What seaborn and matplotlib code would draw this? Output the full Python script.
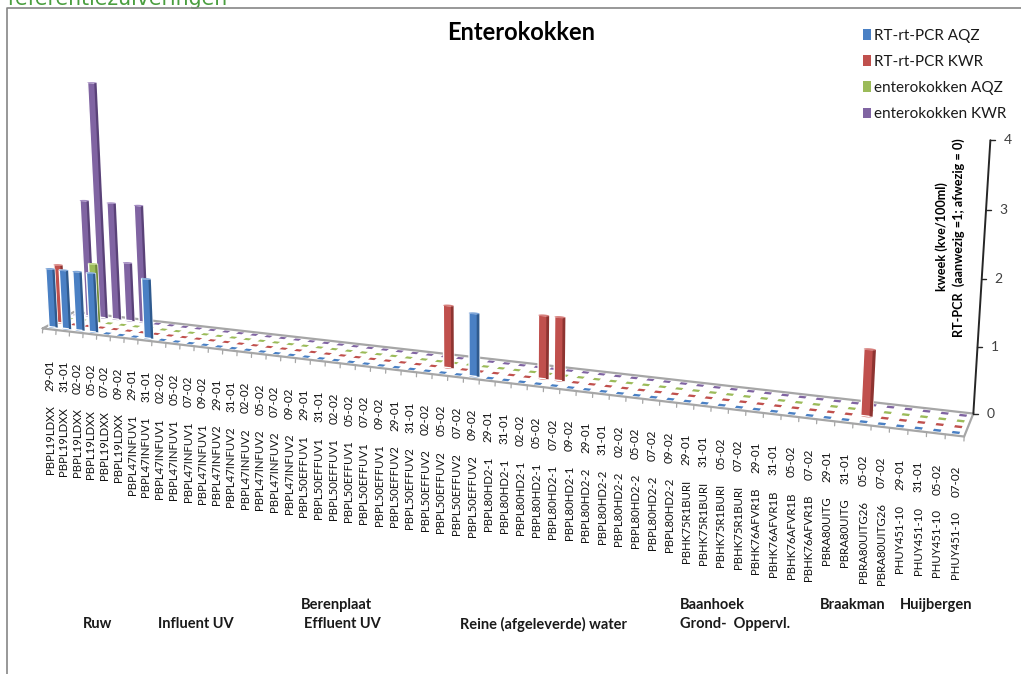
import numpy as np
import pandas as pd
import seaborn as sns
import matplotlib
matplotlib.use("Agg")
import matplotlib.pyplot as plt
from matplotlib.patches import Polygon, Rectangle
from matplotlib.transforms import Transform

samples = (["PBPL19LDXX"] * 6 + ["PBPL47INFUV1"] * 6 + ["PBPL47INFUV2"] * 6 +
           ["PBPL50EFFUV1"] * 6 + ["PBPL50EFFUV2"] * 6 + ["PBPL80HD2-1"] * 6 +
           ["PBPL80HD2-2"] * 6 + ["PBHK75R1BURI"] * 4 + ["PBHK76AFVR1B"] * 4 +
           ["PBRA80UITG"] * 2 + ["PBRA80UITG26"] * 2 + ["PHUY451-10"] * 4)
full_dates = ["29-01", "31-01", "02-02", "05-02", "07-02", "09-02"]
short_dates = ["29-01", "31-01", "05-02", "07-02"]
dates = full_dates * 7 + short_dates * 2 + ["29-01", "31-01", "05-02", "07-02"] + short_dates

series_names = ["RT-rt-PCR AQZ", "RT-rt-PCR KWR", "enterokokken AQZ", "enterokokken KWR"]
series_colors = ["#4A80C4", "#C0504D", "#9BBB59", "#8064A2"]
dark_colors = ["#2F5A8E", "#8E3431", "#6F8A38", "#5A4278"]
light_colors = ["#7FA6D8", "#D67F7C", "#B9D27F", "#A48CC2"]

n_cat = len(samples)
rt_aqz = np.zeros(n_cat)
rt_kwr = np.zeros(n_cat)
ent_aqz = np.zeros(n_cat)
ent_kwr = np.zeros(n_cat)
rt_aqz[[0, 1, 2, 3, 7, 29]] = 1
rt_kwr[[0, 27, 33, 34, 52]] = 1
ent_aqz[[2]] = 1
ent_kwr[[1, 2, 3, 4, 5]] = [2, 4, 2, 1, 2]
series_values = [rt_aqz, rt_kwr, ent_aqz, ent_kwr]
row_depths = [0.125, 0.375, 0.625, 0.875]

group_labels = [("Berenplaat", 336, 605), ("Ruw", 98, 624), ("Influent UV", 196, 624),
                ("Effluent UV", 342, 624), ("Reine (afgeleverde) water", 543, 624),
                ("Baanhoek", 712, 605), ("Grond-  Oppervl.", 735, 624),
                ("Braakman", 853, 605), ("Huijbergen", 936, 605)]

W, H = 1021, 674

# Camera matrix for the oblique view, solved from where the chart box lands on the canvas.
world_pts = np.array([[0, 0, 0], [58, 0, 0], [58, 1, 0], [0, 1, 0], [58, 1, 4],
                      [2.5, .875, 4], [2.5, .875, 0], [52.5, .375, 1], [52.5, .375, 0],
                      [29.5, .125, 1], [29.5, .125, 0], [0.5, .125, 1], [0.5, .125, 0],
                      [8, 0, 0], [57, 0, 0]], float)
canvas_pts = np.array([[43, 328], [963, 438], [973, 413], [72, 312.5], [990, 140],
                       [92, 83], [106, 318], [872, 348], [867, 415],
                       [474, 313], [474, 377], [50, 270], [53, 327],
                       [152, 339], [945, 436]], float)


def solve_camera(world, canvas):
    w = world / np.array([58.0, 1.0, 4.0])
    c = canvas / 1000.0
    rows = []
    for (X, Y, Z), (u, v) in zip(w, c):
        rows.append([X, Y, Z, 1, 0, 0, 0, 0, -u * X, -u * Y, -u * Z, -u])
        rows.append([0, 0, 0, 0, X, Y, Z, 1, -v * X, -v * Y, -v * Z, -v])
    return np.linalg.svd(np.array(rows))[2][-1].reshape(3, 4)


CAMERA = solve_camera(world_pts, canvas_pts)


def project(cat, depth, value):
    cat, depth, value = np.broadcast_arrays(np.asarray(cat, float), np.asarray(depth, float),
                                            np.asarray(value, float))
    pts = np.stack([cat / 58.0, depth, value / 4.0, np.ones_like(cat)], axis=-1)
    h = pts @ CAMERA.T
    return 1000.0 * h[..., :2] / h[..., 2:3]


class RowPlane(Transform):
    """Maps (category, value) in one series row of the chart box onto the canvas."""
    input_dims = 2
    output_dims = 2

    def __init__(self, row_depth):
        super().__init__()
        self.row_depth = row_depth

    def transform_non_affine(self, values):
        values = np.asarray(values, float)
        return project(values[:, 0] + 0.5, self.row_depth, values[:, 1])


sns.set_theme(style="white", rc={"axes.grid": False})
plt.rcParams["font.family"] = ["Lato", "DejaVu Sans"]

fig = plt.figure(figsize=(W / 100, H / 100), dpi=100, facecolor="white")
ax = fig.add_axes([0, 0, 1, 1])

long_table = pd.DataFrame({
    "position": np.tile(np.arange(n_cat), 4),
    "value": np.concatenate(series_values),
    "series": np.repeat(series_names, n_cat),
})
BAR_W = 0.66
sns.barplot(data=long_table, x="position", y="value", hue="series", hue_order=series_names,
            palette=sns.color_palette(series_colors), native_scale=True, dodge=False,
            width=BAR_W, legend=False, errorbar=None, ax=ax, saturation=1)
ax.set_xlim(0, W)
ax.set_ylim(H, 0)
ax.set_axis_off()

# chart box floor and its edges
corners = project([0, 58, 58, 0], [0, 0, 1, 1], [0, 0, 0, 0])
ax.add_patch(Polygon(corners, closed=True, facecolor="white", edgecolor="none", zorder=1))
edge_col = "#A6A6A6"
ax.plot(corners[[0, 1, 2, 3, 0], 0], corners[[0, 1, 2, 3, 0], 1], color=edge_col, lw=1.6, zorder=1.5,
        solid_joinstyle="miter")
tick_top = project(np.arange(59), 0, 0)
for (tx, ty) in tick_top:
    ax.plot([tx, tx - 0.2], [ty, ty + 4.5], color=edge_col, lw=0.9, zorder=1.5)

# series bars: the seaborn rectangles are re-seated into their depth row, then shaded
thet = np.linspace(0, 2 * np.pi, 40)
DEPTH_R = 0.05
for row, (vals, depth, container) in enumerate(zip(series_values, row_depths, ax.containers)):
    z_base = 6 + (3 - row) * 2
    plane = RowPlane(depth) + ax.transData
    for i, (v, bar) in enumerate(zip(vals, container)):
        if v == 0:
            bar.set_visible(False)
            dash = project([i + .5 - .2, i + .5 + .2, i + .5 + .2, i + .5 - .2],
                           [depth - DEPTH_R, depth - DEPTH_R, depth + DEPTH_R, depth + DEPTH_R], 0)
            ax.add_patch(Polygon(dash, closed=True, facecolor=series_colors[row],
                                 edgecolor="none", zorder=2))
            continue
        bar.set_transform(plane)
        bar.set_zorder(z_base)
        cx = i + .5
        base = project(cx + BAR_W / 2 * np.cos(thet), depth + DEPTH_R * np.sin(thet), 0)
        ax.add_patch(Polygon(base, closed=True, facecolor=series_colors[row], edgecolor="none",
                             zorder=z_base - 0.5))
        ax.add_patch(Rectangle((i + BAR_W * 0.24, 0), BAR_W * 0.26, v, facecolor=dark_colors[row],
                               edgecolor="none", transform=plane, zorder=z_base + 0.2))
        top = project(cx + BAR_W / 2 * np.cos(thet), depth + DEPTH_R * np.sin(thet), v)
        ax.add_patch(Polygon(top, closed=True, facecolor=light_colors[row], edgecolor="none",
                             zorder=z_base + 0.4))

# value axis on the far right corner
axis_line = project([58, 58], [1, 1], [0, 4])
ax.plot(axis_line[:, 0], axis_line[:, 1], color="#262626", lw=1.4, zorder=3)
for tick in range(5):
    tx, ty = project(58, 1, tick)
    ax.plot([tx, tx + 4.5], [ty, ty], color="#262626", lw=1.0, zorder=3)
    ax.text(tx + 13, ty, str(tick), ha="left", va="center", fontsize=10, color="#404040")

ax.text(942, 237, "kweek (kve/100ml)", rotation=90, ha="center", va="center",
        fontsize=9.1, fontweight="bold", color="black")
ax.text(959, 238, "RT-PCR  (aanwezig =1; afwezig = 0)", rotation=90, ha="center", va="center",
        fontsize=9.1, fontweight="bold", color="black")

# category labels stacked date-over-sample below the front edge
for i, (sample, date) in enumerate(zip(samples, dates)):
    fx, fy = project(i + .5, 0, 0)
    ax.text(fx + 1, fy + 30, date, rotation=90, ha="center", va="top", fontsize=8.4, color="#111111")
    ax.text(fx + 1, fy + 76, sample, rotation=90, ha="center", va="top", fontsize=8.2, color="#111111")

for text, x, y in group_labels:
    ax.text(x, y, text, ha="center", va="center", fontsize=10.5, fontweight="bold", color="#1a1a1a")

ax.text(521, 33, "Enterokokken", ha="center", va="center", fontsize=17, fontweight="bold",
        color="black")

# legend column
handles = [Rectangle((0, 0), 1, 1, facecolor=c, edgecolor="none") for c in series_colors]
legend = ax.legend(handles, series_names, loc="upper left", bbox_to_anchor=(858 / W, 1 - 24 / H),
                   bbox_transform=fig.transFigure, frameon=False, fontsize=11, handlelength=0.55,
                   handleheight=0.7, handletextpad=0.2, labelspacing=0.8, labelcolor="#1a1a1a",
                   borderpad=0.3, borderaxespad=0)

# worksheet frame and the clipped heading above it
ax.plot([7, 7, W], [H, 7.5, 7.5], color="#868686", lw=1.2, zorder=20)
ax.text(7, 5, "referentiezuiveringen", ha="left", va="baseline", fontsize=14.8, color="#4A9E3F",
        family=["DejaVu Sans"], zorder=19, clip_on=True)

fig.savefig("out.png", dpi=100, facecolor="white")
